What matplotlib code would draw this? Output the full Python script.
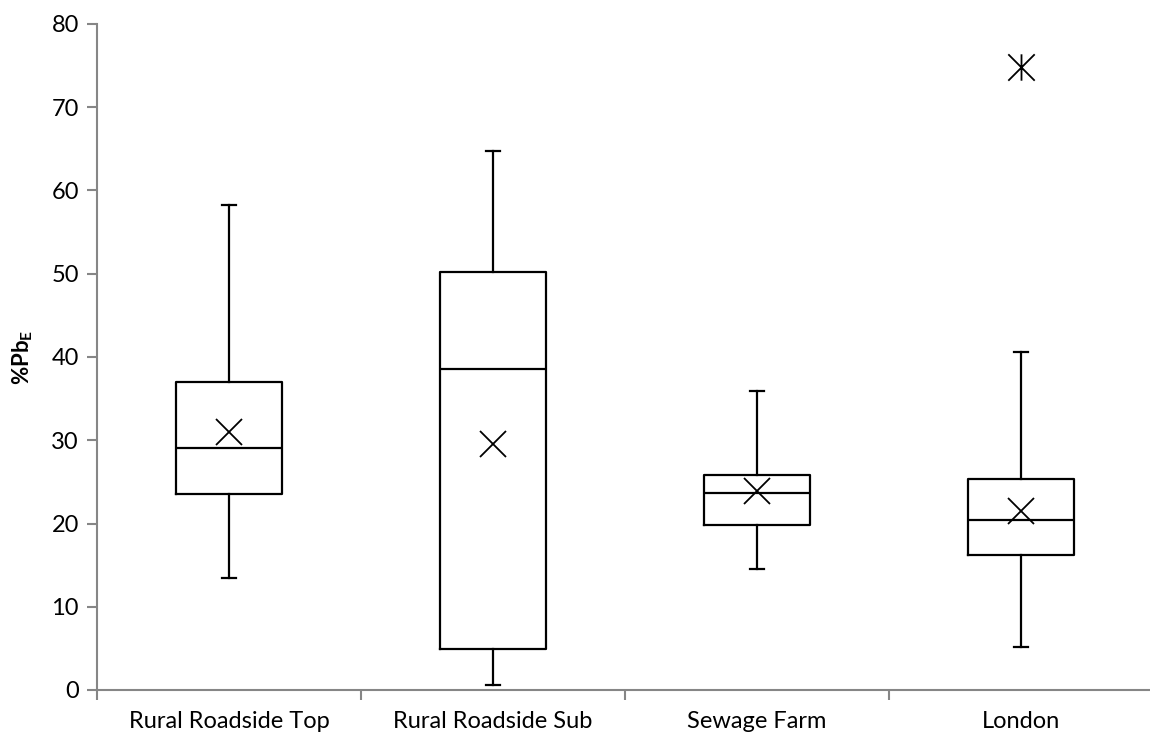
import matplotlib
matplotlib.use("Agg")
import matplotlib.pyplot as plt
from matplotlib.path import Path

# Valores (%PbE)
categorias = ["Rural Roadside Top", "Rural Roadside Sub", "Sewage Farm", "London"]
q1 = [23.6, 4.9, 19.8, 16.2]
mediana = [29.1, 38.5, 23.7, 20.4]
q3 = [37.0, 50.2, 25.8, 25.35]
bigode_inf = [13.5, 0.6, 14.5, 5.2]
bigode_sup = [58.3, 64.8, 35.95, 40.6]
media = [31.0, 29.6, 23.9, 21.5]
outliers = [[], [], [], [74.8]]

plt.rcParams['font.family'] = ['Lato', 'DejaVu Sans']

stats = []
for i in range(len(categorias)):
    stats.append({
        'label': categorias[i],
        'q1': q1[i], 'med': mediana[i], 'q3': q3[i],
        'whislo': bigode_inf[i], 'whishi': bigode_sup[i],
        'mean': media[i], 'fliers': outliers[i],
    })

# marcador asterisco: X com traço vertical
asterisco = Path(
    [(-1, -1), (1, 1), (-1, 1), (1, -1), (0, -1), (0, 1)],
    [Path.MOVETO, Path.LINETO, Path.MOVETO, Path.LINETO, Path.MOVETO, Path.LINETO],
)

fig = plt.figure(figsize=(11.5, 7.42), dpi=100)
ax = fig.add_axes([97 / 1150, 1 - 690 / 742, 1056 / 1150, 666 / 742])

linha = dict(color='black', linewidth=1.6)
ax.bxp(stats, positions=[1, 2, 3, 4], widths=0.4, capwidths=0.05,
       showmeans=True, showfliers=True,
       boxprops=linha, medianprops=linha, whiskerprops=linha, capprops=linha,
       meanprops=dict(marker='x', markersize=19, markeredgecolor='black',
                      markeredgewidth=1.3, linestyle='none'),
       flierprops=dict(marker=asterisco, markersize=19, markeredgecolor='black',
                       markerfacecolor='none', markeredgewidth=1.3, linestyle='none'))

ax.set_xlim(0.5, 4.5)
ax.set_ylim(0, 80)
ax.set_yticks(range(0, 81, 10))
ax.set_xticks([1, 2, 3, 4])
ax.set_xticklabels(categorias)
ax.set_xticks([0.5, 1.5, 2.5, 3.5, 4.5], minor=True)
ax.tick_params(axis='x', which='major', length=0, pad=15, labelsize=17)
ax.tick_params(axis='x', which='minor', length=7, width=1.5, color='#868686', direction='out')
ax.tick_params(axis='y', length=7, width=1.5, color='#868686', direction='out', labelsize=17, pad=6)

for lado in ['top', 'right']:
    ax.spines[lado].set_visible(False)
for lado in ['left', 'bottom']:
    ax.spines[lado].set_color('#868686')
    ax.spines[lado].set_linewidth(1.5)

ax.set_ylabel(r'%Pb$_\mathregular{E}$', fontsize=16, fontweight='bold', labelpad=12)

plt.savefig("out.png", dpi=100)
